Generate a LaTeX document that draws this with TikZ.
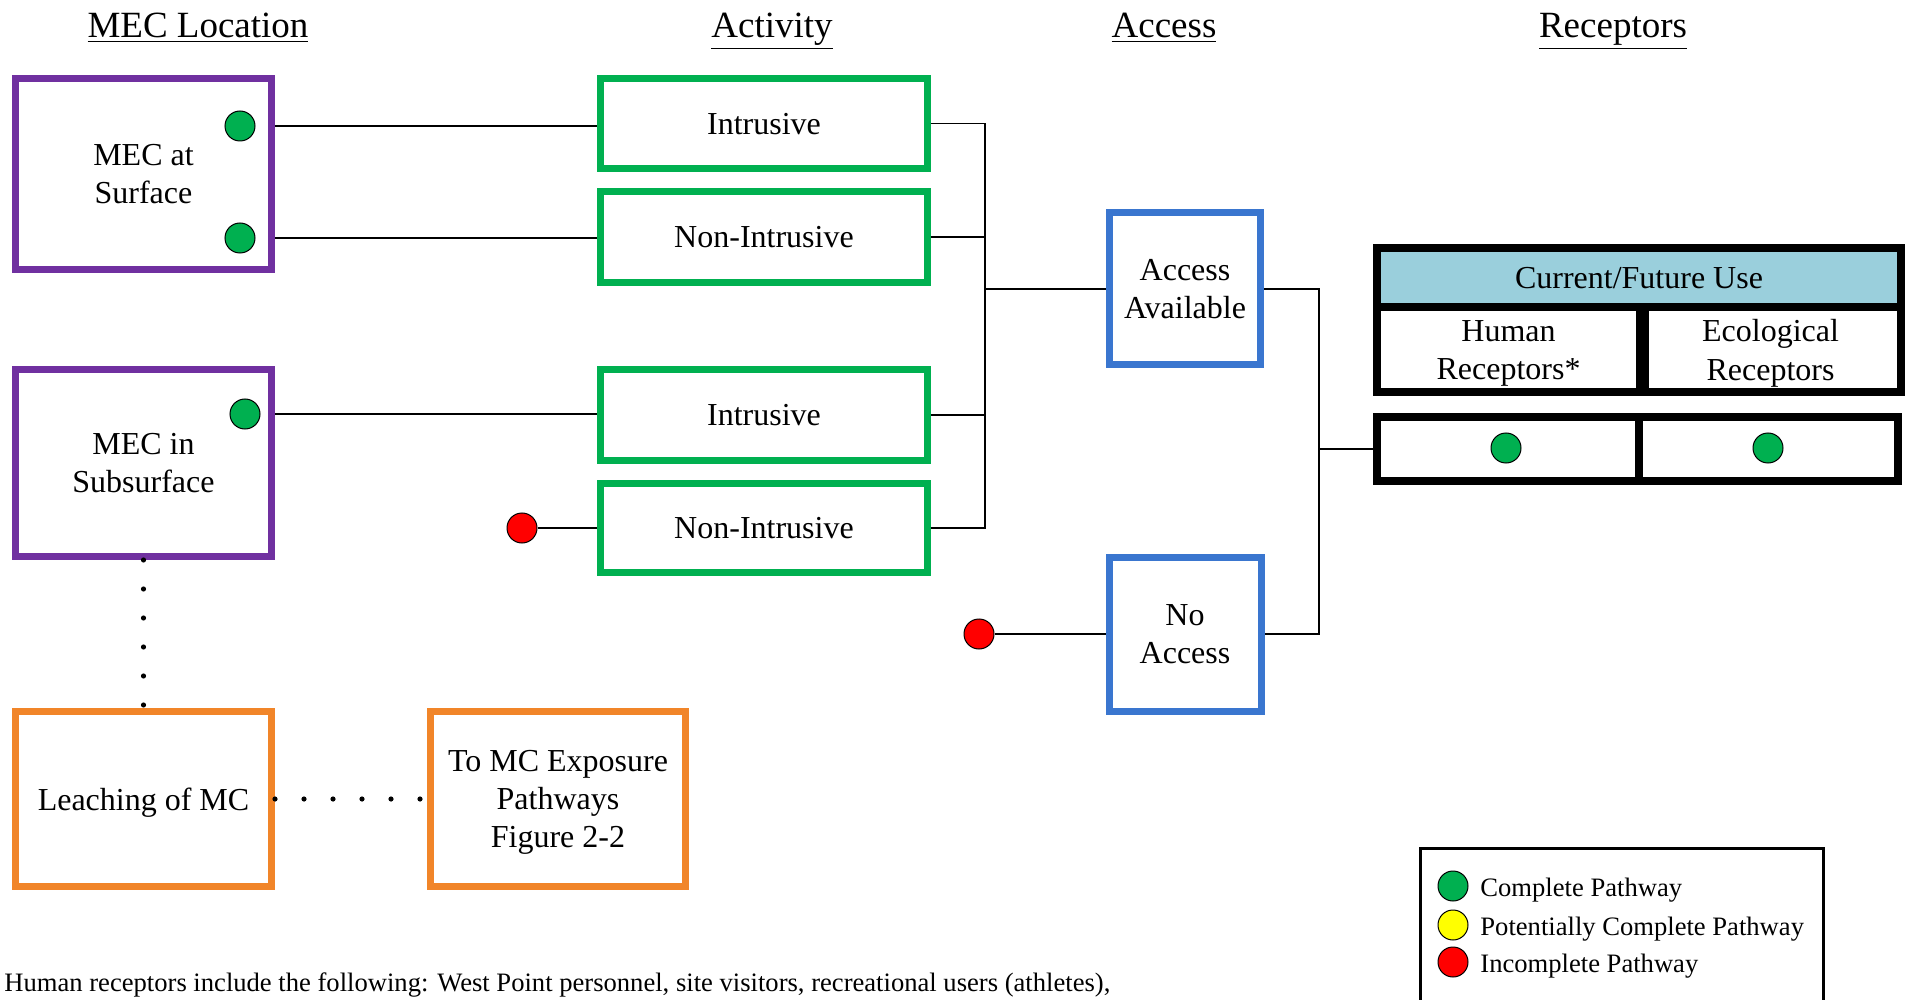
\documentclass[tikz,border=0pt]{standalone}
\usepackage{fontspec}
\setmainfont{Liberation Serif}
\definecolor{cpurple}{HTML}{7030A0}
\definecolor{cgreen}{HTML}{00B050}
\definecolor{cblue}{HTML}{3A76CF}
\definecolor{corange}{HTML}{F18529}
\definecolor{chdr}{HTML}{9ACFDC}
\definecolor{cred}{HTML}{FF0000}
\definecolor{cyellow}{HTML}{FFFF00}
\begin{document}
\begin{tikzpicture}[x=0.5pt,y=-0.5pt,
  box/.style={draw, line width=3.5pt, fill=white, align=center, inner sep=2pt, text depth=0pt, font=\fontsize{16}{19.2}\selectfont},
  pbox/.style={box, draw=cpurple},
  gbox/.style={box, draw=cgreen},
  bbox/.style={box, draw=cblue},
  obox/.style={box, draw=corange},
  tbl/.style={draw=black, line width=4pt, align=center, inner sep=0pt, text depth=0pt, font=\fontsize{16}{19.2}\selectfont},
  dotn/.style={circle, draw=black, line width=0.5pt, minimum size=15pt, inner sep=0pt},
  conn/.style={draw=black, line width=0.75pt},
  dotline/.style={line width=2.6pt, line cap=round, dash pattern=on 0pt off 14.5pt},
  title/.style={font=\fontsize{18.5}{22}\selectfont, anchor=base},
  legtxt/.style={font=\fontsize{13.3}{16}\selectfont, anchor=west, inner sep=0pt}
]
\useasboundingbox (0,0) rectangle (1913,1000);
\clip (0,0) rectangle (1913,1000);

% titles
\node[title] (t1) at (198,38) {\underline{MEC Location}};
\node[title] (t2) at (772,38) {\underline{Activity}};
\node[title] (t3) at (1164,38) {\underline{Access}};
\node[title] (t4) at (1613,38) {\underline{Receptors}};

% MEC location boxes
\node[pbox, minimum width=128pt, minimum height=95.5pt] (surf) at (143.5,174) {MEC at\\Surface};
\node[pbox, minimum width=128pt, minimum height=93.5pt] (sub) at (143.5,463) {MEC in\\Subsurface};
\node[obox, minimum width=128pt, minimum height=87.5pt] (leach) at (143.5,799) {Leaching of MC};
\node[obox, minimum width=127.5pt, minimum height=87.5pt] (tomc) at (558,799) {To MC Exposure\\Pathways\\Figure 2-2};

% activity boxes
\node[gbox, minimum width=163.5pt, minimum height=45pt] (intr1) at (764,123.5) {Intrusive};
\node[gbox, minimum width=163.5pt, minimum height=45.5pt] (nint1) at (764,237) {Non-Intrusive};
\node[gbox, minimum width=163.5pt, minimum height=45.5pt] (intr2) at (764,415) {Intrusive};
\node[gbox, minimum width=163.5pt, minimum height=44.5pt] (nint2) at (764,528) {Non-Intrusive};

% access boxes
\node[bbox, minimum width=75.5pt, minimum height=76pt] (avail) at (1185,289) {Access\\Available};
\node[bbox, minimum width=76pt, minimum height=77pt] (noacc) at (1185,634) {No\\Access};

% receptor table
\node[tbl, fill=chdr, minimum width=262pt, minimum height=29.75pt] (hdr) at (1639,277.75) {Current/Future Use};
\node[tbl, minimum width=131.5pt, minimum height=42.5pt] (human) at (1508.5,350) {Human\\Receptors*};
\node[tbl, minimum width=130.5pt, minimum height=42.5pt] (eco) at (1770.5,350) {Ecological\\Receptors};
\node[tbl, minimum width=130.75pt, minimum height=32pt] (cellH) at (1507.75,449) {};
\node[tbl, minimum width=129.75pt, minimum height=32pt] (cellE) at (1768.25,449) {};
\draw[line width=5pt] (human.north east) -- (human.south east);

% dots
\node[dotn, fill=cgreen] (sd1) at (240,126) {};
\node[dotn, fill=cgreen] (sd2) at (240,238) {};
\node[dotn, fill=cgreen] (bd1) at (245,414) {};
\node[dotn, fill=cred] (rd1) at (522,528) {};
\node[dotn, fill=cred] (rd2) at (979,634) {};
\node[dotn, fill=cgreen] (hd) at (1506,448) {};
\node[dotn, fill=cgreen] (ed) at (1768,448) {};

% connectors left
\draw[conn] (surf.east |- sd1) -- (intr1.west |- sd1);
\draw[conn] (surf.east |- sd2) -- (nint1.west |- sd2);
\draw[conn] (sub.east |- bd1) -- (intr2.west |- bd1);
\draw[conn] (rd1.east) -- (nint2.west);

% bus to access
\coordinate (busa) at (985,289);
\draw[conn] (intr1.east) -| (busa |- nint2.east) -- (nint2.east);
\draw[conn] (nint1.east) -- (nint1.east -| busa);
\draw[conn] (intr2.east) -- (intr2.east -| busa);
\draw[conn] (busa) -- (avail.west);
\draw[conn] (rd2.east) -- (noacc.west);

% bus to receptors
\coordinate (busb) at (1319,449);
\draw[conn] (avail.east) -| (busb |- noacc.east) -- (noacc.east);
\draw[conn] (busb) -- (cellH.west);

% dotted links
\draw[dotline] (sub.south) -- (leach.north);
\draw[dotline] (leach.east) -- (tomc.west);

% legend
\draw[line width=1.5pt] (1420,1010) |- (1823,848) -- (1823,1010);
\node[dotn, fill=cgreen] (lg) at (1453,886) {};
\node[dotn, fill=cyellow] (ly) at (1453,925) {};
\node[dotn, fill=cred] (lr) at (1453,962) {};
\node[legtxt] (lgt) at (1480,890) {Complete Pathway};
\node[legtxt] (lyt) at (1480,929) {Potentially Complete Pathway};
\node[legtxt] (lrt) at (1480,966) {Incomplete Pathway};

% footer
\node[font=\fontsize{13.3}{16}\selectfont, anchor=base west, inner sep=0pt] (foot) at (4,991) {Human receptors include the following: West Point personnel, site visitors, recreational users (athletes),};
\end{tikzpicture}
\end{document}
